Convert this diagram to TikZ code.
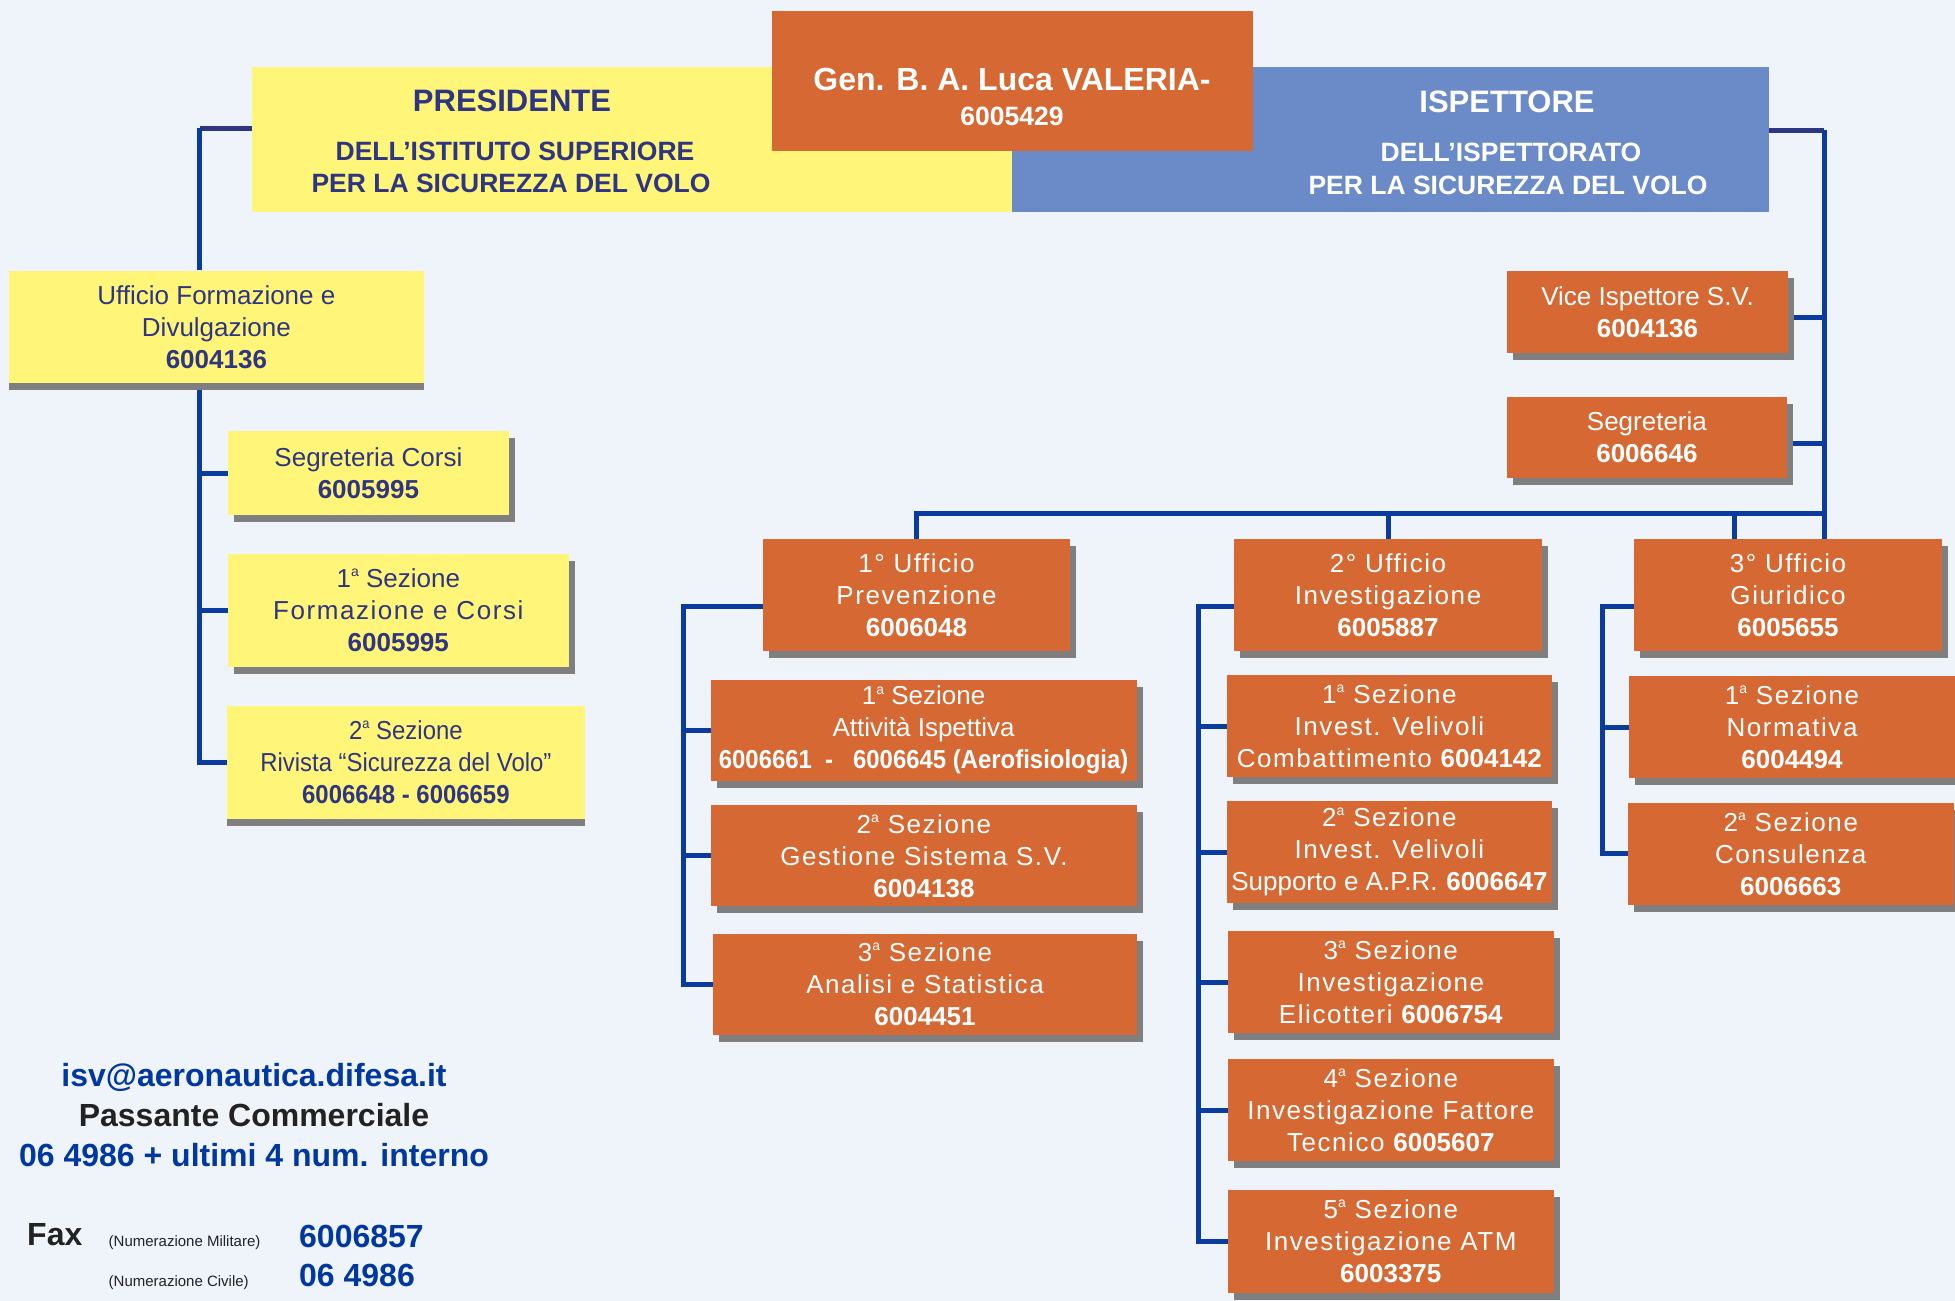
\documentclass[tikz,border=0pt]{standalone}
\usepackage{fontspec}
\setmainfont{Liberation Sans}
\newfontfamily\spaced[LetterSpace=6]{Liberation Sans}
\newfontfamily\condensed[FakeStretch=0.92]{Liberation Sans}
\usetikzlibrary{shadows,calc}

\definecolor{bgcol}{RGB}{239,243,250}
\definecolor{boxorange}{RGB}{214,105,51}
\definecolor{boxyellow}{RGB}{255,245,120}
\definecolor{boxblue}{RGB}{106,139,200}
\definecolor{navy}{RGB}{46,53,130}
\definecolor{linkblue}{RGB}{10,60,160}
\definecolor{infoblue}{RGB}{0,56,160}
\definecolor{darktext}{RGB}{34,34,34}
\definecolor{shadowgray}{RGB}{127,127,127}

\newcommand\boxfont{\fontsize{26}{32}\selectfont}
\newcommand\ord{\raisebox{0.42em}{\fontsize{14}{14}\selectfont a}}
\newcommand\tel[1]{{\normalfont\bfseries #1}}

\tikzset{
  wh/.style 2 args={inner sep=0pt, align=center, minimum width=#1pt, minimum height=#2pt},
  ybox/.style={fill=boxyellow, text=navy, font=\boxfont},
  obox/.style={fill=boxorange, text=white, font=\boxfont},
  sp/.style={font=\boxfont\spaced},
  cn/.style={font=\boxfont\condensed},
  toplbl/.style={font=\fontsize{26.5}{32}\selectfont\bfseries},
  shade/.style={drop shadow={shadow xshift=6pt, shadow yshift=-7pt, fill=shadowgray, opacity=1}},
  flatshade/.style={drop shadow={shadow xshift=0pt, shadow yshift=-7pt, fill=shadowgray, opacity=1}},
  conn/.style={draw=linkblue, line width=5pt},
  topconn/.style={draw=navy, line width=5pt},
}

\begin{document}
\begin{tikzpicture}[x=1pt,y=-1pt]
% Background
\fill[bgcol] (0,0) rectangle (1955,1301);
\useasboundingbox (0,0) rectangle (1955,1301);

% Top boxes
\node[fill=boxyellow, wh={760}{145}] (pres) at (632,139.5) {};
\node[fill=boxblue, wh={757}{145}] (isp) at (1390.5,139.5) {};
\node[fill=boxorange, wh={481}{140}] (gen) at (1012.5,81) {};
\node[text=navy, font=\fontsize{31}{36}\selectfont\bfseries] (presT) at (512,101) {PRESIDENTE};
\node[text=navy, toplbl] (presA) at (515,151) {DELL’ISTITUTO SUPERIORE};
\node[text=navy, toplbl] (presB) at (511,183) {PER LA SICUREZZA DEL VOLO};
\node[text=white, font=\fontsize{31}{36}\selectfont\bfseries] (ispT) at (1507,102) {ISPETTORE};
\node[text=white, toplbl] (ispA) at (1511,152) {DELL’ISPETTORATO};
\node[text=white, toplbl] (ispB) at (1508,185) {PER LA SICUREZZA DEL VOLO};
\node[text=white, font=\fontsize{32}{38}\selectfont\bfseries] (genT) at (1012,79) {Gen. B. A. Luca VALERIA-};
\node[text=white, toplbl] (genN) at (1012,116) {6005429};

% Presidente branch
\node[ybox, wh={415.3}{112.4}, flatshade] (ufd) at (216.4,326.8) {Ufficio Formazione e\\Divulgazione\\\tel{6004136}};
\node[ybox, wh={280.7}{84}, shade] (sc) at (368.4,473) {Segreteria Corsi\\\tel{6005995}};
\node[ybox, wh={340.5}{113.4}, shade] (sfc) at (398.3,610.3) {1\ord{} Sezione\\{\spaced Formazione e Corsi}\\\tel{6005995}};
\node[ybox, cn, wh={357.8}{113.3}, flatshade] (riv) at (405.9,762.4) {2\ord{} Sezione\\Rivista “Sicurezza del Volo”\\\textbf{6006648 - 6006659}};

% Ispettore staff
\node[obox, wh={281}{82.4}, shade] (vice) at (1647.5,311.8) {Vice Ispettore S.V.\\\tel{6004136}};
\node[obox, wh={279.7}{81}, shade] (segr) at (1646.9,437) {Segreteria\\\tel{6006646}};

% 1st office
\node[obox, sp, wh={307}{112}, shade] (u1) at (916.5,595) {1° Ufficio\\Prevenzione\\\tel{6006048}};
\node[obox, wh={425.8}{101.5}, shade] (s11) at (923.6,730.3) {1\ord{} Sezione\\Attività Ispettiva\\{\condensed\bfseries 6006661\ \ -\ \ \ 6006645 (Aerofisiologia)}};
\node[obox, sp, wh={426.3}{101}, shade] (s12) at (923.9,855.9) {2\ord{} Sezione\\Gestione Sistema S.V.\\\tel{6004138}};
\node[obox, sp, wh={424}{101}, shade] (s13) at (925,984.5) {3\ord{} Sezione\\Analisi e Statistica\\\tel{6004451}};

% 2nd office
\node[obox, sp, wh={308}{112}, shade] (u2) at (1388,595) {2° Ufficio\\Investigazione\\\tel{6005887}};
\node[obox, sp, wh={325.2}{102}, shade] (s21) at (1389.4,726) {1\ord{} Sezione\\Invest. Velivoli\\Combattimento \tel{6004142}};
\node[obox, sp, wh={325.2}{102}, shade] (s22) at (1389.4,852) {2\ord{} Sezione\\Invest. Velivoli\\{\normalfont Supporto e A.P.R.} \tel{6006647}};
\node[obox, sp, wh={325.5}{102}, shade] (s23) at (1390.8,982) {3\ord{} Sezione\\Investigazione\\Elicotteri \tel{6006754}};
\node[obox, sp, wh={325.5}{102}, shade] (s24) at (1390.8,1110) {4\ord{} Sezione\\Investigazione Fattore\\Tecnico \tel{6005607}};
\node[obox, sp, wh={325.5}{103}, shade] (s25) at (1390.8,1241.5) {5\ord{} Sezione\\Investigazione ATM\\\tel{6003375}};

% 3rd office
\node[obox, sp, wh={308}{112}, shade] (u3) at (1788,595) {3° Ufficio\\Giuridico\\\tel{6005655}};
\node[obox, sp, wh={326}{102}, shade] (s31) at (1792,727) {1\ord{} Sezione\\Normativa\\\tel{6004494}};
\node[obox, sp, wh={325.6}{101.6}, shade] (s32) at (1790.8,853.8) {2\ord{} Sezione\\Consulenza\\\tel{6006663}};

% Connectors, left
\coordinate (lt) at (199.5,128);
\coordinate (lb) at (199.5,390);
\draw[topconn] (pres.west |- lt) -- (lt);
\draw[conn] (lt) -- (lt |- ufd.north);
\draw[conn] (lb) |- (riv.west);
\foreach \n in {sc,sfc} \draw[conn] (lt |- \n.west) -- (\n.west);

% Connectors, right
\coordinate (rt) at (1824,130);
\draw[topconn] (isp.east |- rt) -- (rt);
\draw[conn] (rt) -- (rt |- u3.north);
\foreach \n in {vice,segr} \draw[conn] ([shift={(6pt,-6pt)}]\n.east) -- ($(\n.east -| rt)+(0,6)$);
\coordinate (bus) at (1824,513.7);
\coordinate (d3) at (1734,513.7);
\draw[conn] (u1.north) |- (bus);
\draw[conn] (u2.north) -- (u2.north |- bus);
\draw[conn] (d3) -- (d3 |- u3.north);

% Connectors, offices
\coordinate (t1) at (683,606);
\draw[conn] (u1.west |- t1) -- (t1) |- (s13.west);
\foreach \n in {s11,s12} \draw[conn] (t1 |- \n.west) -- (\n.west);
\coordinate (t2) at (1198,606);
\draw[conn] (u2.west |- t2) -- (t2) |- (s25.west);
\foreach \n in {s21,s22,s23,s24} \draw[conn] (t2 |- \n.west) -- (\n.west);
\coordinate (t3) at (1602.5,606);
\draw[conn] (u3.west |- t3) -- (t3) |- (s32.west);
\draw[conn] (t3 |- s31.west) -- (s31.west);

% Contacts
\node[anchor=base, text=infoblue, font=\fontsize{32}{38}\selectfont\bfseries] (mail) at (254,1086) {isv@aeronautica.difesa.it};
\node[anchor=base, text=darktext, font=\fontsize{32}{38}\selectfont\bfseries] (pass) at (254,1126) {Passante Commerciale};
\node[anchor=base, text=infoblue, font=\fontsize{32}{38}\selectfont\bfseries] (pref) at (254,1166) {06 4986 + ultimi 4 num. interno};
\node[anchor=base west, inner sep=0pt, text=darktext, font=\fontsize{32}{38}\selectfont\bfseries] (fax) at (27,1245.5) {Fax};
\node[anchor=base west, inner sep=0pt, text=darktext, font=\fontsize{15}{18}\selectfont] (milT) at (108.5,1246) {(Numerazione Militare)};
\node[anchor=base west, inner sep=0pt, text=infoblue, font=\fontsize{32}{38}\selectfont\bfseries] (milN) at (299,1247) {6006857};
\node[anchor=base west, inner sep=0pt, text=darktext, font=\fontsize{15}{18}\selectfont] (civT) at (108.5,1286) {(Numerazione Civile)};
\node[anchor=base west, inner sep=0pt, text=infoblue, font=\fontsize{32}{38}\selectfont\bfseries] (civN) at (299,1286.5) {06 4986};
\end{tikzpicture}
\end{document}
